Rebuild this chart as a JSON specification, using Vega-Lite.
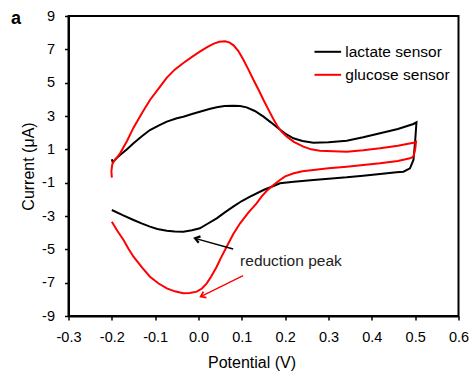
{
  "$schema": "https://vega.github.io/schema/vega-lite/v6.json",
  "width": 390,
  "height": 300,
  "autosize": "none",
  "padding": {"left": 68.5, "top": 16, "right": 14.5, "bottom": 60},
  "background": "white",
  "title": {"text": "a", "anchor": "start", "frame": "group", "orient": "top", "fontSize": 18, "fontWeight": "bold", "baseline": "alphabetic", "offset": 0, "dx": -57.5, "dy": 34, "color": "black"},
  "config": {
    "font": "Liberation Sans",
    "view": {"stroke": "black", "strokeWidth": 2},
    "axis": {"grid": false, "labelOverlap": false, "labelFlush": false, "domainColor": "black", "domainWidth": 2, "tickColor": "black", "tickWidth": 1.5, "tickSize": 4, "labelColor": "black", "titleColor": "black", "labelFontSize": 14.5, "titleFontSize": 16, "titleFontWeight": "normal", "labelFont": "Liberation Sans", "titleFont": "Liberation Sans"}
  },
  "datasets": {
    "cv": [
      {"s": "lactate sensor", "i": 0, "v": -0.200, "c": 0.40},
      {"s": "lactate sensor", "i": 1, "v": -0.198, "c": 0.22},
      {"s": "lactate sensor", "i": 2, "v": -0.190, "c": 0.45},
      {"s": "lactate sensor", "i": 3, "v": -0.181, "c": 0.66},
      {"s": "lactate sensor", "i": 4, "v": -0.165, "c": 1.00},
      {"s": "lactate sensor", "i": 5, "v": -0.150, "c": 1.36},
      {"s": "lactate sensor", "i": 6, "v": -0.130, "c": 1.80},
      {"s": "lactate sensor", "i": 7, "v": -0.112, "c": 2.16},
      {"s": "lactate sensor", "i": 8, "v": -0.090, "c": 2.45},
      {"s": "lactate sensor", "i": 9, "v": -0.073, "c": 2.66},
      {"s": "lactate sensor", "i": 10, "v": -0.050, "c": 2.86},
      {"s": "lactate sensor", "i": 11, "v": -0.035, "c": 2.96},
      {"s": "lactate sensor", "i": 12, "v": -0.015, "c": 3.12},
      {"s": "lactate sensor", "i": 13, "v": 0.003, "c": 3.26},
      {"s": "lactate sensor", "i": 14, "v": 0.025, "c": 3.42},
      {"s": "lactate sensor", "i": 15, "v": 0.042, "c": 3.52},
      {"s": "lactate sensor", "i": 16, "v": 0.060, "c": 3.60},
      {"s": "lactate sensor", "i": 17, "v": 0.080, "c": 3.61},
      {"s": "lactate sensor", "i": 18, "v": 0.096, "c": 3.60},
      {"s": "lactate sensor", "i": 19, "v": 0.111, "c": 3.52},
      {"s": "lactate sensor", "i": 20, "v": 0.130, "c": 3.30},
      {"s": "lactate sensor", "i": 21, "v": 0.150, "c": 2.96},
      {"s": "lactate sensor", "i": 22, "v": 0.167, "c": 2.62},
      {"s": "lactate sensor", "i": 23, "v": 0.184, "c": 2.26},
      {"s": "lactate sensor", "i": 24, "v": 0.200, "c": 1.95},
      {"s": "lactate sensor", "i": 25, "v": 0.219, "c": 1.66},
      {"s": "lactate sensor", "i": 26, "v": 0.240, "c": 1.50},
      {"s": "lactate sensor", "i": 27, "v": 0.265, "c": 1.40},
      {"s": "lactate sensor", "i": 28, "v": 0.300, "c": 1.42},
      {"s": "lactate sensor", "i": 29, "v": 0.342, "c": 1.52},
      {"s": "lactate sensor", "i": 30, "v": 0.380, "c": 1.72},
      {"s": "lactate sensor", "i": 31, "v": 0.419, "c": 1.96},
      {"s": "lactate sensor", "i": 32, "v": 0.460, "c": 2.22},
      {"s": "lactate sensor", "i": 33, "v": 0.496, "c": 2.52},
      {"s": "lactate sensor", "i": 34, "v": 0.503, "c": 2.62},
      {"s": "lactate sensor", "i": 35, "v": 0.500, "c": 1.50},
      {"s": "lactate sensor", "i": 36, "v": 0.496, "c": 0.36},
      {"s": "lactate sensor", "i": 37, "v": 0.488, "c": -0.14},
      {"s": "lactate sensor", "i": 38, "v": 0.473, "c": -0.34},
      {"s": "lactate sensor", "i": 39, "v": 0.457, "c": -0.38},
      {"s": "lactate sensor", "i": 40, "v": 0.419, "c": -0.48},
      {"s": "lactate sensor", "i": 41, "v": 0.380, "c": -0.58},
      {"s": "lactate sensor", "i": 42, "v": 0.342, "c": -0.68},
      {"s": "lactate sensor", "i": 43, "v": 0.300, "c": -0.76},
      {"s": "lactate sensor", "i": 44, "v": 0.265, "c": -0.84},
      {"s": "lactate sensor", "i": 45, "v": 0.220, "c": -0.94},
      {"s": "lactate sensor", "i": 46, "v": 0.188, "c": -1.04},
      {"s": "lactate sensor", "i": 47, "v": 0.173, "c": -1.20},
      {"s": "lactate sensor", "i": 48, "v": 0.150, "c": -1.44},
      {"s": "lactate sensor", "i": 49, "v": 0.119, "c": -1.84},
      {"s": "lactate sensor", "i": 50, "v": 0.100, "c": -2.10},
      {"s": "lactate sensor", "i": 51, "v": 0.080, "c": -2.44},
      {"s": "lactate sensor", "i": 52, "v": 0.060, "c": -2.80},
      {"s": "lactate sensor", "i": 53, "v": 0.042, "c": -3.14},
      {"s": "lactate sensor", "i": 54, "v": 0.020, "c": -3.48},
      {"s": "lactate sensor", "i": 55, "v": 0.003, "c": -3.74},
      {"s": "lactate sensor", "i": 56, "v": -0.015, "c": -3.86},
      {"s": "lactate sensor", "i": 57, "v": -0.035, "c": -3.94},
      {"s": "lactate sensor", "i": 58, "v": -0.055, "c": -3.93},
      {"s": "lactate sensor", "i": 59, "v": -0.073, "c": -3.88},
      {"s": "lactate sensor", "i": 60, "v": -0.095, "c": -3.78},
      {"s": "lactate sensor", "i": 61, "v": -0.112, "c": -3.64},
      {"s": "lactate sensor", "i": 62, "v": -0.130, "c": -3.46},
      {"s": "lactate sensor", "i": 63, "v": -0.150, "c": -3.24},
      {"s": "lactate sensor", "i": 64, "v": -0.175, "c": -2.95},
      {"s": "lactate sensor", "i": 65, "v": -0.200, "c": -2.64},
      {"s": "glucose sensor", "i": 0, "v": -0.200, "c": -0.70},
      {"s": "glucose sensor", "i": 1, "v": -0.201, "c": -0.30},
      {"s": "glucose sensor", "i": 2, "v": -0.199, "c": 0.10},
      {"s": "glucose sensor", "i": 3, "v": -0.195, "c": 0.30},
      {"s": "glucose sensor", "i": 4, "v": -0.190, "c": 0.45},
      {"s": "glucose sensor", "i": 5, "v": -0.181, "c": 0.76},
      {"s": "glucose sensor", "i": 6, "v": -0.165, "c": 1.50},
      {"s": "glucose sensor", "i": 7, "v": -0.150, "c": 2.30},
      {"s": "glucose sensor", "i": 8, "v": -0.130, "c": 3.20},
      {"s": "glucose sensor", "i": 9, "v": -0.112, "c": 3.96},
      {"s": "glucose sensor", "i": 10, "v": -0.090, "c": 4.72},
      {"s": "glucose sensor", "i": 11, "v": -0.073, "c": 5.30},
      {"s": "glucose sensor", "i": 12, "v": -0.055, "c": 5.78},
      {"s": "glucose sensor", "i": 13, "v": -0.035, "c": 6.18},
      {"s": "glucose sensor", "i": 14, "v": -0.015, "c": 6.55},
      {"s": "glucose sensor", "i": 15, "v": 0.003, "c": 6.86},
      {"s": "glucose sensor", "i": 16, "v": 0.020, "c": 7.13},
      {"s": "glucose sensor", "i": 17, "v": 0.034, "c": 7.33},
      {"s": "glucose sensor", "i": 18, "v": 0.048, "c": 7.45},
      {"s": "glucose sensor", "i": 19, "v": 0.061, "c": 7.48},
      {"s": "glucose sensor", "i": 20, "v": 0.071, "c": 7.42},
      {"s": "glucose sensor", "i": 21, "v": 0.081, "c": 7.24},
      {"s": "glucose sensor", "i": 22, "v": 0.092, "c": 6.90},
      {"s": "glucose sensor", "i": 23, "v": 0.103, "c": 6.40},
      {"s": "glucose sensor", "i": 24, "v": 0.115, "c": 5.80},
      {"s": "glucose sensor", "i": 25, "v": 0.127, "c": 5.16},
      {"s": "glucose sensor", "i": 26, "v": 0.140, "c": 4.50},
      {"s": "glucose sensor", "i": 27, "v": 0.150, "c": 3.96},
      {"s": "glucose sensor", "i": 28, "v": 0.162, "c": 3.35},
      {"s": "glucose sensor", "i": 29, "v": 0.173, "c": 2.80},
      {"s": "glucose sensor", "i": 30, "v": 0.182, "c": 2.40},
      {"s": "glucose sensor", "i": 31, "v": 0.192, "c": 2.05},
      {"s": "glucose sensor", "i": 32, "v": 0.204, "c": 1.76},
      {"s": "glucose sensor", "i": 33, "v": 0.220, "c": 1.45},
      {"s": "glucose sensor", "i": 34, "v": 0.242, "c": 1.16},
      {"s": "glucose sensor", "i": 35, "v": 0.260, "c": 1.00},
      {"s": "glucose sensor", "i": 36, "v": 0.280, "c": 0.92},
      {"s": "glucose sensor", "i": 37, "v": 0.342, "c": 0.86},
      {"s": "glucose sensor", "i": 38, "v": 0.380, "c": 0.94},
      {"s": "glucose sensor", "i": 39, "v": 0.419, "c": 1.06},
      {"s": "glucose sensor", "i": 40, "v": 0.460, "c": 1.22},
      {"s": "glucose sensor", "i": 41, "v": 0.496, "c": 1.40},
      {"s": "glucose sensor", "i": 42, "v": 0.502, "c": 1.46},
      {"s": "glucose sensor", "i": 43, "v": 0.500, "c": 1.00},
      {"s": "glucose sensor", "i": 44, "v": 0.496, "c": 0.56},
      {"s": "glucose sensor", "i": 45, "v": 0.488, "c": 0.46},
      {"s": "glucose sensor", "i": 46, "v": 0.460, "c": 0.30},
      {"s": "glucose sensor", "i": 47, "v": 0.419, "c": 0.16},
      {"s": "glucose sensor", "i": 48, "v": 0.380, "c": 0.06},
      {"s": "glucose sensor", "i": 49, "v": 0.342, "c": -0.04},
      {"s": "glucose sensor", "i": 50, "v": 0.300, "c": -0.14},
      {"s": "glucose sensor", "i": 51, "v": 0.265, "c": -0.24},
      {"s": "glucose sensor", "i": 52, "v": 0.240, "c": -0.32},
      {"s": "glucose sensor", "i": 53, "v": 0.220, "c": -0.44},
      {"s": "glucose sensor", "i": 54, "v": 0.200, "c": -0.62},
      {"s": "glucose sensor", "i": 55, "v": 0.188, "c": -0.84},
      {"s": "glucose sensor", "i": 56, "v": 0.173, "c": -1.14},
      {"s": "glucose sensor", "i": 57, "v": 0.157, "c": -1.50},
      {"s": "glucose sensor", "i": 58, "v": 0.145, "c": -1.85},
      {"s": "glucose sensor", "i": 59, "v": 0.134, "c": -2.24},
      {"s": "glucose sensor", "i": 60, "v": 0.115, "c": -2.80},
      {"s": "glucose sensor", "i": 61, "v": 0.096, "c": -3.44},
      {"s": "glucose sensor", "i": 62, "v": 0.080, "c": -4.10},
      {"s": "glucose sensor", "i": 63, "v": 0.065, "c": -4.84},
      {"s": "glucose sensor", "i": 64, "v": 0.052, "c": -5.50},
      {"s": "glucose sensor", "i": 65, "v": 0.042, "c": -6.04},
      {"s": "glucose sensor", "i": 66, "v": 0.030, "c": -6.60},
      {"s": "glucose sensor", "i": 67, "v": 0.019, "c": -7.04},
      {"s": "glucose sensor", "i": 68, "v": 0.008, "c": -7.35},
      {"s": "glucose sensor", "i": 69, "v": -0.004, "c": -7.54},
      {"s": "glucose sensor", "i": 70, "v": -0.020, "c": -7.62},
      {"s": "glucose sensor", "i": 71, "v": -0.035, "c": -7.64},
      {"s": "glucose sensor", "i": 72, "v": -0.055, "c": -7.52},
      {"s": "glucose sensor", "i": 73, "v": -0.073, "c": -7.34},
      {"s": "glucose sensor", "i": 74, "v": -0.092, "c": -7.05},
      {"s": "glucose sensor", "i": 75, "v": -0.112, "c": -6.64},
      {"s": "glucose sensor", "i": 76, "v": -0.130, "c": -6.10},
      {"s": "glucose sensor", "i": 77, "v": -0.150, "c": -5.44},
      {"s": "glucose sensor", "i": 78, "v": -0.162, "c": -4.95},
      {"s": "glucose sensor", "i": 79, "v": -0.173, "c": -4.44},
      {"s": "glucose sensor", "i": 80, "v": -0.187, "c": -3.90},
      {"s": "glucose sensor", "i": 81, "v": -0.200, "c": -3.34}
    ],
    "arrows": [
      {"s": "lactate sensor", "v": 0.080, "c": -4.98, "v2": -0.008, "c2": -4.34},
      {"s": "glucose sensor", "v": 0.103, "c": -6.58, "v2": 0.005, "c2": -7.84}
    ],
    "notes": [
      {"label": "reduction peak", "v": 0.096, "c": -5.7}
    ]
  },
  "layer": [
    {
      "data": {"name": "cv"},
      "mark": {"type": "line", "strokeWidth": 2, "interpolate": "linear"},
      "encoding": {
        "x": {"field": "v", "type": "quantitative", "scale": {"domain": [-0.3, 0.6], "nice": false, "zero": false},
          "axis": {"values": [-0.3, -0.2, -0.1, 0, 0.1, 0.2, 0.3, 0.4, 0.5, 0.6], "tickCount": 20, "labelOverlap": false, "labelExpr": "replace(format(datum.value, '.1f'), '\u2212', '-')", "title": "Potential (V)", "labelPadding": 10, "titlePadding": 11, "titleX": 183}},
        "y": {"field": "c", "type": "quantitative", "scale": {"domain": [-9, 9], "nice": false, "zero": false},
          "axis": {"values": [-9, -7, -5, -3, -1, 1, 3, 5, 7, 9], "tickCount": 20, "labelOverlap": false, "labelExpr": "replace(format(datum.value, 'd'), '\u2212', '-')", "title": "Current (μA)", "labelPadding": 10, "titlePadding": 5}},
        "color": {"field": "s", "type": "nominal", "scale": {"domain": ["lactate sensor", "glucose sensor"], "range": ["#000000", "#ff0000"]},
          "legend": {"title": null, "orient": "none", "legendX": 244.8, "legendY": 21.3, "padding": 0, "symbolType": "stroke", "symbolSize": 710, "symbolStrokeWidth": 2, "labelFontSize": 15.5, "labelColor": "black", "labelOffset": 3, "rowPadding": -2, "labelFont": "Liberation Sans"}},
        "order": {"field": "i", "type": "quantitative"}
      }
    },
    {
      "data": {"name": "arrows"},
      "mark": {"type": "rule", "strokeWidth": 1.3},
      "encoding": {
        "x": {"field": "v", "type": "quantitative"},
        "y": {"field": "c", "type": "quantitative"},
        "x2": {"field": "v2"},
        "y2": {"field": "c2"},
        "color": {"field": "s", "type": "nominal", "legend": null}
      }
    },
    {
      "data": {"name": "arrows"},
      "transform": [{"filter": "datum.s === 'lactate sensor'"}],
      "mark": {"type": "point", "shape": "M-1,-0.7L0,0L-1,0.7", "filled": false, "strokeWidth": 2.2, "size": 90, "angle": 195.6, "opacity": 1},
      "encoding": {
        "x": {"field": "v2", "type": "quantitative"},
        "y": {"field": "c2", "type": "quantitative"},
        "color": {"field": "s", "type": "nominal", "legend": null}
      }
    },
    {
      "data": {"name": "arrows"},
      "transform": [{"filter": "datum.s === 'glucose sensor'"}],
      "mark": {"type": "point", "shape": "M-1,-0.7L0,0L-1,0.7", "filled": false, "strokeWidth": 1.8, "size": 90, "angle": 153.8, "opacity": 1},
      "encoding": {
        "x": {"field": "v2", "type": "quantitative"},
        "y": {"field": "c2", "type": "quantitative"},
        "color": {"field": "s", "type": "nominal", "legend": null}
      }
    },
    {
      "data": {"name": "notes"},
      "mark": {"type": "text", "align": "left", "baseline": "middle", "fontSize": 15.5, "color": "#222222", "font": "Liberation Sans"},
      "encoding": {
        "x": {"field": "v", "type": "quantitative"},
        "y": {"field": "c", "type": "quantitative"},
        "text": {"field": "label"}
      }
    }
  ]
}
